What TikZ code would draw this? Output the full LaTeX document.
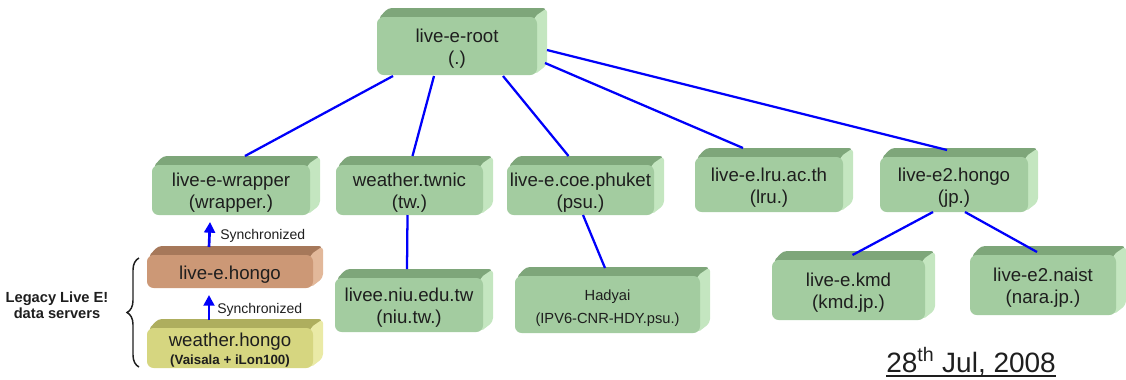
\documentclass[tikz,border=0pt]{standalone}
\usepackage{fontspec}
\setmainfont{Liberation Sans}
\usetikzlibrary{arrows.meta,decorations.pathreplacing}

% face colours of the slabs: front, top (shadowed) and side (lit)
\definecolor{gfront}{RGB}{163,204,160}
\definecolor{gtop}{RGB}{126,166,122}
\definecolor{gside}{RGB}{196,230,192}
\definecolor{bfront}{RGB}{204,152,118}
\definecolor{btop}{RGB}{166,120,90}
\definecolor{bside}{RGB}{226,184,154}
\definecolor{yfront}{RGB}{214,214,128}
\definecolor{ytop}{RGB}{174,174,94}
\definecolor{yside}{RGB}{234,234,166}
\definecolor{ink}{RGB}{30,30,30}
\definecolor{link}{RGB}{0,0,250}

\tikzset{
  slabface/.style={rounded corners=5, inner sep=0pt, outer sep=0pt, align=center,
    text=ink, font=\fontsize{14}{16.5}\selectfont},
  treeline/.style={draw=link, line width=1.7pt},
  syncarrow/.style={draw=link, line width=2pt, -{Triangle[length=8pt,width=8pt]}},
  synclabel/.style={anchor=west, inner sep=0pt, text=ink, font=\fontsize{10.5}{12}\selectfont},
}

% \slab{name}{left}{top}{right}{bottom}{colour prefix}{text}: a bevelled block
\newcommand\slab[7]{%
  \fill[#6top, rounded corners=3] (#2+1,#3+2) -- (#2+11,#3-9) -- (#4+10,#3-9) -- (#4,#3+2) -- cycle;
  \fill[#6side, rounded corners=3] (#4-3,#3) -- (#4+10,#3-9) -- (#4+10,#5-10) -- (#4-3,#5) -- cycle;
  \node[slabface, fill=#6front, minimum width={(#4-#2)*0.75pt}, minimum height={(#5-#3)*0.75pt}]
    (#1) at ({(#2+#4)/2},{(#3+#5)/2})
    {\raisebox{-2.5pt}[\height][\depth]{\begin{tabular}{@{}c@{}}#7\end{tabular}}};
}

\begin{document}
\begin{tikzpicture}[x=0.75pt, y=-0.75pt]
\useasboundingbox (0,0) rectangle (1126,379);

% top level
\slab{root}{377}{17}{537}{75}{g}{live-e-root\\(.)}

% second level
\slab{wrapper}{152}{165}{310}{215}{g}{live-e-wrapper\\(wrapper.)}
\slab{twnic}{336}{165}{483}{215}{g}{weather.twnic\\(tw.)}
\slab{phuket}{507}{165}{654}{215}{g}{live-e.coe.phuket\\(psu.)}
\slab{lru}{695}{157}{843}{212}{g}{live-e.lru.ac.th\\(lru.)}
\slab{hongotwo}{880}{157}{1028}{212}{g}{live-e2.hongo\\(jp.)}

% third level
\slab{niu}{335}{278}{483}{332}{g}{livee.niu.edu.tw\\(niu.tw.)}
\slab{hadyai}{515}{276}{700}{333}{g}{\fontsize{11}{13}\selectfont Hadyai\\[1pt]\fontsize{11}{13}\selectfont(IPV6-CNR-HDY.psu.)}
\slab{kmd}{772}{260}{925}{320}{g}{live-e.kmd\\(kmd.jp.)}
\slab{naist}{970}{255}{1116}{315}{g}{live-e2.naist\\(nara.jp.)}

% legacy servers
\slab{hongo}{147}{255}{313}{288}{b}{live-e.hongo}
\slab{weather}{147}{328}{313}{368}{y}{weather.hongo\\[-3pt]{\fontsize{10}{12}\selectfont\bfseries (Vaisala + iLon100)}}

% tree links
\draw[treeline] ([shift={(-64,1)}]root.south) -- ([shift={(14,-9)}]wrapper.north);
\draw[treeline] ([shift={(-23,1)}]root.south) -- ([shift={(3,-9)}]twnic.north);
\draw[treeline] ([shift={(46,1)}]root.south) -- ([shift={(-12,-9)}]phuket.north);
\draw[treeline] ([shift={(8,17)}]root.east) -- ([shift={(-26,-9)}]lru.north);
\draw[treeline] ([shift={(10,4)}]root.east) -- ([shift={(-7,-7)}]hongotwo.north);
\draw[treeline] ([shift={(-2,0)}]twnic.south) -- ([shift={(-2,-9)}]niu.north);
\draw[treeline] ([shift={(2.5,0)}]phuket.south) -- ([shift={(-2.5,-8)}]hadyai.north);
\draw[treeline] ([shift={(-21,0)}]hongotwo.south) -- ([shift={(4,-5)}]kmd.north);
\draw[treeline] ([shift={(11,0)}]hongotwo.south) -- ([shift={(-6,-3)}]naist.north);

% synchronisation arrows
\draw[syncarrow] ([shift={(-21,-8)}]weather.north) -- ([shift={(-21,7)}]hongo.south);
\draw[syncarrow] ([shift={(-21,-8)}]hongo.north) -- ([shift={(-21,7)}]wrapper.south);
\node[synclabel] (synclow) at (217,310) {Synchronized};
\node[synclabel] (synchigh) at (220,236) {Synchronized};

% bracket over the legacy servers
\draw[line width=1.1pt, ink, decorate, decoration={brace, amplitude=9pt}] (139,367) -- (139,258);
\node[align=center, text=ink, font=\fontsize{11}{12}\selectfont\bfseries] (legacy) at (57,305)
  {Legacy Live E!\\data servers};

% date stamp
\node[anchor=base west, inner sep=0pt, text=ink, font=\fontsize{21}{24}\selectfont] (date) at (886,372)
  {28\textsuperscript{th} Jul, 2008};
\draw[ink, line width=1.2pt] ([shift={(0,4)}]date.base west) -- ([shift={(0,4)}]date.base east);
\end{tikzpicture}
\end{document}
